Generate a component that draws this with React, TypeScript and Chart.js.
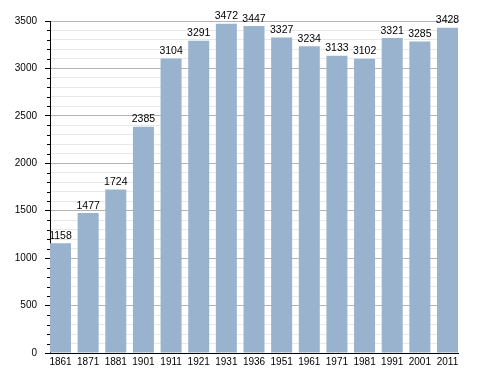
import React, { useEffect, useRef } from "react";
import { Chart, registerables } from "chart.js";

Chart.register(...registerables);

const years = ["1861", "1871", "1881", "1901", "1911", "1921", "1931", "1936", "1951", "1961", "1971", "1981", "1991", "2001", "2011"];
const population = [1158, 1477, 1724, 2385, 3104, 3291, 3472, 3447, 3327, 3234, 3133, 3102, 3321, 3285, 3428];
const yMax = 3500;
const yMajorStep = 500;
const yMinorStep = 100;

const FONT = '"Liberation Sans", Arial, sans-serif';

const valueLabels = {
  id: "valueLabels",
  afterDatasetsDraw(chart: any) {
    const ctx = chart.ctx;
    const meta = chart.getDatasetMeta(0);
    ctx.save();
    ctx.font = `10.5px ${FONT}`;
    ctx.fillStyle = "#000";
    ctx.textAlign = "center";
    ctx.textBaseline = "bottom";
    meta.data.forEach((bar: any, i: number) => {
      ctx.fillText(String(population[i]), bar.x, bar.y - 2);
    });
    ctx.restore();
  },
};

const minorTicks = {
  id: "minorTicks",
  afterDraw(chart: any) {
    const y = chart.scales.y;
    const left = chart.chartArea.left;
    const ctx = chart.ctx;
    ctx.save();
    ctx.strokeStyle = "#000";
    ctx.lineWidth = 1;
    for (let v = 0; v <= yMax; v += yMinorStep) {
      if (v % yMajorStep === 0) continue;
      const py = Math.round(y.getPixelForValue(v)) + 0.5;
      ctx.beginPath();
      ctx.moveTo(left - 3, py);
      ctx.lineTo(left, py);
      ctx.stroke();
    }
    ctx.restore();
  },
};

export default function App() {
  const ref = useRef<HTMLCanvasElement | null>(null);

  useEffect(() => {
    if (!ref.current) return;
    const chart = new Chart(ref.current, {
      type: "bar",
      data: {
        datasets: [
          {
            data: population.map((v, i) => ({ x: i, y: v })),
            backgroundColor: "#99b2ce",
            borderWidth: 0,
            barPercentage: 0.76,
            categoryPercentage: 1,
          },
        ],
      },
      options: {
        animation: false,
        responsive: true,
        maintainAspectRatio: false,
        layout: { padding: { top: 21, right: 30, bottom: 0, left: 0 } },
        plugins: { legend: { display: false }, tooltip: { enabled: false } },
        scales: {
          x: {
            type: "linear",
            offset: false,
            min: -0.38,
            max: years.length - 1 + 0.38,
            afterBuildTicks: (scale: any) => {
              scale.ticks = years.map((_, i) => ({ value: i }));
            },
            afterFit: (scale: any) => {
              scale.height = 20;
            },
            grid: { display: false, drawTicks: false },
            border: { display: true, color: "#000", width: 1 },
            ticks: {
              autoSkip: false,
              maxRotation: 0,
              padding: 3,
              color: "#000",
              font: { family: FONT, size: 10 },
              callback: (v: any) => years[v] ?? "",
            },
          },
          y: {
            min: 0,
            max: yMax,
            afterFit: (scale: any) => {
              scale.width = 50;
            },
            grid: {
              color: (c: any) => (c.tick && c.tick.value % yMajorStep === 0 ? "#b4b4b4" : "#e8e8e8"),
              tickColor: (c: any) => (c.tick && c.tick.value % yMajorStep === 0 ? "#000" : "rgba(0,0,0,0)"),
              tickLength: 5,
              drawTicks: true,
            },
            border: { display: true, color: "#000", width: 1 },
            ticks: {
              stepSize: yMinorStep,
              autoSkip: false,
              padding: 8,
              color: "#000",
              font: { family: FONT, size: 10 },
              callback: (v: any) => (v % yMajorStep === 0 ? String(v) : ""),
            },
          },
        },
      },
      plugins: [valueLabels, minorTicks],
    } as any);
    return () => chart.destroy();
  }, []);

  return (
    <div style={{ position: "absolute", left: 0, top: 0, width: 488, height: 373, background: "#fff" }}>
      <canvas ref={ref} />
    </div>
  );
}
